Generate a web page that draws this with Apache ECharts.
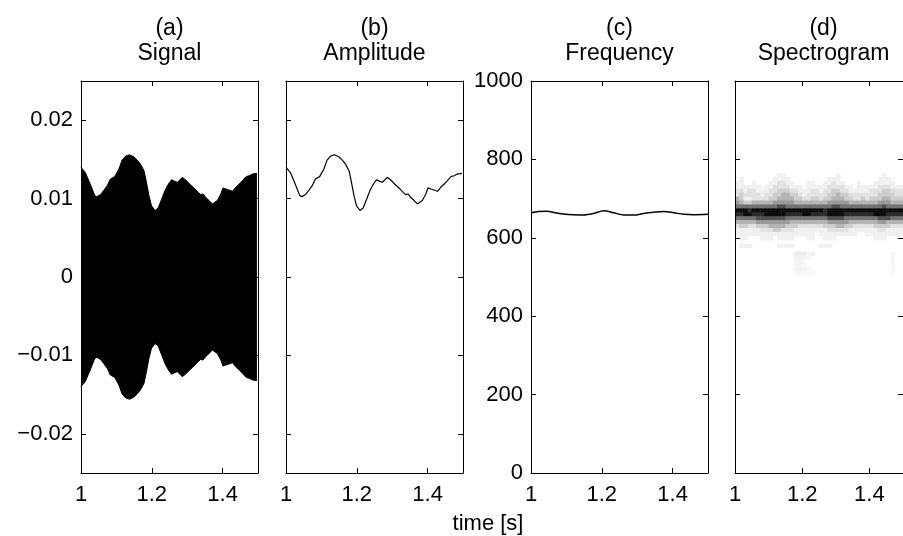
<!DOCTYPE html>
<html><head><meta charset="utf-8">
<script src="https://cdn.jsdelivr.net/npm/echarts@6/dist/echarts.min.js"></script>
<style>html,body{margin:0;padding:0;background:#fff}#c{width:903px;height:536px}</style>
</head><body><div id="c"></div>
<script>
// ---------- data ----------
const panelLetters = ['(a)', '(b)', '(c)', '(d)'];
const panelTitles = ['Signal', 'Amplitude', 'Frequency', 'Spectrogram'];
const xLabel = 'time [s]';
const timeTicks = [1, 1.2, 1.4];
const ampTicks = [-0.02, -0.01, 0, 0.01, 0.02];
const freqTicks = [0, 200, 400, 600, 800, 1000];

// amplitude envelope (panel b), also the envelope of the signal (panel a)
const ampTime = [1.000,1.012,1.026,1.039,1.045,1.055,1.064,1.074,1.083,1.095,1.107,1.116,1.126,1.137,1.149,1.159,1.168,1.178,1.184,1.192,1.199,1.209,1.218,1.228,1.237,1.247,1.256,1.265,1.272,1.279,1.286,1.296,1.307,1.319,1.331,1.338,1.345,1.352,1.362,1.371,1.376,1.385,1.395,1.401,1.409,1.418,1.428,1.437,1.447,1.456,1.466,1.475,1.484,1.497];
const ampValue = [0.01398,0.01335,0.01186,0.01038,0.01025,0.01051,0.01102,0.01165,0.01250,0.01280,0.01377,0.01491,0.01542,0.01559,0.01534,0.01491,0.01440,0.01356,0.01229,0.01038,0.00911,0.00848,0.00881,0.00996,0.01102,0.01186,0.01241,0.01220,0.01208,0.01237,0.01271,0.01237,0.01186,0.01136,0.01080,0.01051,0.01059,0.01017,0.00975,0.00932,0.00924,0.00975,0.01059,0.01136,0.01123,0.01110,0.01093,0.01144,0.01186,0.01229,0.01280,0.01292,0.01313,0.01322];

// instantaneous frequency (panel c)
const freqTime = [1.000,1.021,1.045,1.068,1.092,1.120,1.148,1.177,1.205,1.233,1.262,1.290,1.318,1.347,1.375,1.403,1.432,1.460,1.500];
const freqValue = [664,667,668,664,661,659,658,662,669,664,658,658,662,665,667,664,660,659,660];

// spectrogram (panel d): grey level 0 (white) .. 9 (black), 10 Hz rows, 0.0125 s columns
const specT0 = 1.0, specDt = 0.0125;
const specFreqs = [760,750,740,730,720,710,700,690,680,670,660,650,640,630,620,610,600,590,580];
const specLevels = [
 [0,0,0,0,0,0,0,0,0,0,1,1,0,0,0,0,0,0,0,0,0,0,0,0,1,0,0,0,0,0,0,0,0,0,0,1,0,0,0,0],
 [0,1,0,0,0,0,0,0,0,1,1,1,1,0,0,0,0,0,0,0,0,0,1,1,1,0,0,0,0,0,0,0,0,0,1,1,1,0,0,0],
 [1,1,0,0,1,0,0,0,1,1,2,2,1,1,0,0,0,1,1,0,0,1,1,2,1,1,0,0,0,1,0,0,0,1,1,1,1,1,0,0],
 [1,1,1,1,1,1,0,1,1,2,2,2,2,1,1,1,0,1,1,1,1,1,2,2,2,2,1,1,0,1,1,1,1,1,2,2,2,1,1,1],
 [2,2,1,2,2,1,1,1,2,2,3,3,3,2,2,1,1,1,2,2,1,2,2,3,3,2,2,1,1,1,1,1,2,2,2,3,3,2,2,2],
 [2,3,2,2,2,2,1,2,2,3,3,4,4,3,3,2,1,2,2,2,2,2,3,3,4,3,3,2,2,2,2,2,2,2,3,3,3,3,2,2],
 [4,3,1,1,2,2,2,2,3,3,4,4,4,4,3,3,2,2,3,3,2,3,3,4,4,4,3,3,2,2,3,2,3,3,3,4,4,3,3,3],
 [5,4,3,3,4,4,4,4,4,5,5,5,5,5,4,4,4,4,4,4,4,4,5,5,5,5,5,4,4,4,4,4,4,4,5,5,5,4,4,4],
 [6,6,6,6,6,6,6,6,6,6,7,7,6,6,6,6,6,6,6,6,6,6,6,7,7,6,6,6,6,6,6,6,6,6,6,7,6,6,6,6],
 [9,9,9,8,9,9,9,9,9,9,9,9,9,9,9,9,9,9,9,9,9,8,9,9,9,9,9,9,9,9,9,9,9,9,9,9,9,9,9,9],
 [8,8,9,9,8,8,8,9,9,9,9,9,8,8,8,8,9,9,8,8,8,8,9,9,9,9,8,8,8,8,8,8,8,9,9,9,8,8,8,8],
 [6,6,6,6,6,7,7,7,7,7,7,7,6,6,6,6,6,6,6,6,6,6,7,7,7,7,6,6,6,6,6,6,6,6,7,7,7,6,6,6],
 [4,4,4,4,4,5,5,5,5,5,5,5,5,4,4,4,4,4,4,4,4,4,5,5,5,5,5,4,4,4,4,4,4,4,5,5,4,4,4,4],
 [2,3,3,2,2,3,3,3,4,4,4,4,3,3,3,2,2,2,2,2,2,3,3,3,4,4,3,3,2,2,2,2,2,3,3,3,3,2,2,2],
 [1,1,1,1,1,1,2,2,2,3,3,2,2,2,1,1,1,1,1,1,1,1,2,2,2,2,2,1,1,1,1,1,1,1,2,2,1,1,1,1],
 [1,1,1,1,1,1,1,1,1,1,1,1,1,1,1,1,1,1,1,0,1,1,1,1,1,1,1,1,1,0,0,1,1,1,1,1,1,1,1,1],
 [0,1,1,0,0,0,1,1,1,0,1,1,1,1,0,0,0,1,1,0,0,1,1,1,0,0,0,0,0,0,0,0,0,1,1,1,0,0,0,0],
 [0,0,0,0,0,0,0,0,0,0,0,0,0,0,0,0,0,0,0,0,0,0,0,0,0,0,0,0,0,0,0,0,0,0,0,0,0,0,0,0],
 [0,1,1,1,0,0,0,0,0,0,1,1,1,1,0,0,0,0,0,0,1,1,1,0,0,0,0,0,0,0,0,0,0,0,0,0,0,0,0,0]
];
// faint isolated cells below the band: [column, frequency, level 0..1]
const specFaint = [[14,560,1],[15,560,1],[16,560,1],[17,560,0.6],[18,560,0.6],[14,550,0.8],[15,550,0.8],[16,550,0.6],[17,550,0.5],[14,540,0.6],[15,540,0.6],[14,530,0.5],[15,530,0.6],[16,530,0.5],[14,520,0.6],[15,520,0.6],[16,520,0.6],[17,520,0.5],[14,510,0.5],[15,510,0.5],[16,510,0.5],[17,510,0.4],[18,510,0.4],[37,560,0.5],[37,550,0.5],[37,540,0.5],[37,530,0.4],[37,520,0.4],[37,510,0.4]];

// ---------- chart ----------
const greys = ['#ffffff','#f1f1f1','#e2e2e2','#cecece','#b4b4b4','#9a9a9a','#727272','#4f4f4f','#2b2b2b','#0d0d0d'];
const FONT = 'Liberation Sans, Arial, Helvetica, sans-serif';
const gridLefts = [81, 286, 531, 735];
const gridW = 177, gridTop = 81, gridH = 392;

function fmtAmp(v) {
  if (Math.abs(v) < 1e-12) return '0';
  return (v < 0 ? '\u2212' : '') + Math.abs(v).toFixed(2);
}
function faintGrey(lv) {
  const g = Math.round(255 - lv * 18);
  return 'rgb(' + g + ',' + g + ',' + g + ')';
}

const grids = [], xAxes = [], yAxes = [];
const yCfg = [
  { min: -0.025, max: 0.025, ticks: ampTicks, labels: true, fmt: fmtAmp },
  { min: -0.025, max: 0.025, ticks: ampTicks, labels: false, fmt: fmtAmp },
  { min: 0, max: 1000, ticks: freqTicks, labels: true, fmt: v => String(v) },
  { min: 0, max: 1000, ticks: freqTicks, labels: false, fmt: v => String(v) }
];
const lineBase = { show: true, onZero: false, lineStyle: { color: '#000', width: 1 } };
for (let i = 0; i < 4; i++) {
  grids.push({ left: gridLefts[i], top: gridTop, width: gridW, height: gridH });
  ['bottom', 'top'].forEach((pos, k) => {
    xAxes.push({
      gridIndex: i, type: 'value', position: pos, min: 1, max: 1.5, z: 5,
      axisLine: lineBase,
      axisTick: { show: true, inside: true, length: 5, customValues: timeTicks, lineStyle: { color: '#000' } },
      axisLabel: { show: k === 0, customValues: timeTicks, formatter: v => String(v), fontFamily: FONT, fontSize: 22, color: '#000', margin: 11 },
      splitLine: { show: false }
    });
  });
  ['left', 'right'].forEach((pos, k) => {
    const c = yCfg[i];
    yAxes.push({
      gridIndex: i, type: 'value', position: pos, min: c.min, max: c.max, z: 5,
      axisLine: lineBase,
      axisTick: { show: true, inside: true, length: 5, customValues: c.ticks, lineStyle: { color: '#000' } },
      axisLabel: { show: k === 0 && c.labels, customValues: c.ticks, formatter: c.fmt, fontFamily: FONT, fontSize: 22, color: '#000', margin: 8 },
      splitLine: { show: false }
    });
  });
}

const ampPairs = ampTime.map((t, i) => [t, ampValue[i]]);
const ampNegPairs = ampTime.map((t, i) => [t, -ampValue[i]]);
const freqPairs = freqTime.map((t, i) => [t, freqValue[i]]);
const specData = [];
specFreqs.forEach((f, r) => specLevels[r].forEach((lv, c) => { if (lv > 0) specData.push([specT0 + c * specDt, f, lv, 0]); }));
specFaint.forEach(([c, f, lv]) => specData.push([specT0 + c * specDt, f, lv, 1]));

const series = [
  { type: 'line', xAxisIndex: 0, yAxisIndex: 0, data: ampPairs, showSymbol: false, lineStyle: { color: '#000', width: 1 }, areaStyle: { color: '#000', opacity: 1 } },
  { type: 'line', xAxisIndex: 0, yAxisIndex: 0, data: ampNegPairs, showSymbol: false, lineStyle: { color: '#000', width: 1 }, areaStyle: { color: '#000', opacity: 1 } },
  { type: 'line', xAxisIndex: 2, yAxisIndex: 2, data: ampPairs, showSymbol: false, lineStyle: { color: '#000', width: 1.2 } },
  { type: 'line', xAxisIndex: 4, yAxisIndex: 4, data: freqPairs, showSymbol: false, smooth: 0.3, lineStyle: { color: '#000', width: 1.5 } },
  {
    type: 'custom', xAxisIndex: 6, yAxisIndex: 6, data: specData, clip: true,
    encode: { x: 0, y: 1 },
    renderItem: function (params, api) {
      const t = api.value(0), f = api.value(1), lv = api.value(2), faint = api.value(3);
      const p0 = api.coord([t, f + 5]);
      const p1 = api.coord([t + specDt, f - 5]);
      return { type: 'rect', shape: { x: p0[0], y: p0[1], width: p1[0] - p0[0] + 0.6, height: p1[1] - p0[1] + 0.6 }, style: { fill: faint ? faintGrey(lv) : greys[lv] } };
    }
  }
];

const graphics = [];
for (let i = 0; i < 4; i++) {
  const cx = gridLefts[i] + gridW / 2;
  graphics.push({ type: 'text', x: cx, y: 29, style: { text: panelLetters[i], font: '23px ' + FONT, fill: '#000', align: 'center', verticalAlign: 'middle' } });
  graphics.push({ type: 'text', x: cx, y: 54, style: { text: panelTitles[i], font: '23px ' + FONT, fill: '#000', align: 'center', verticalAlign: 'middle' } });
}
graphics.push({ type: 'text', x: 488, y: 524, style: { text: xLabel, font: '22px ' + FONT, fill: '#000', align: 'center', verticalAlign: 'middle' } });

const chart = echarts.init(document.getElementById('c'), null, { renderer: 'canvas' });
chart.setOption({
  animation: false,
  backgroundColor: '#fff',
  grid: grids, xAxis: xAxes, yAxis: yAxes, series: series, graphic: graphics
});
</script></body></html>
